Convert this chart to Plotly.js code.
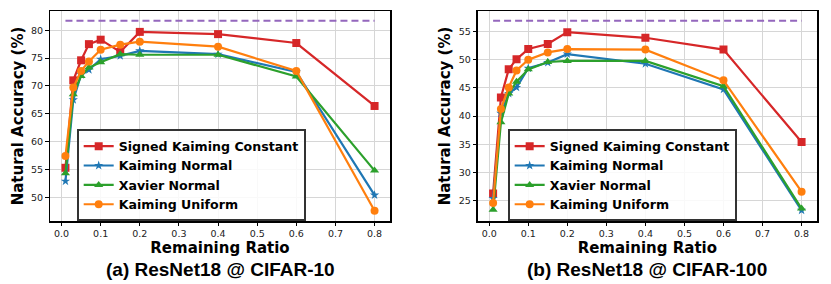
<!DOCTYPE html>
<html>
<head>
<meta charset="utf-8">
<script src="https://cdn.plot.ly/plotly-3.0.1.min.js"></script>
<style>html,body{margin:0;padding:0;background:#fff;}#chart{width:831px;height:284px;}</style>
</head>
<body>
<div id="chart"></div>
<script>
// ---- data ----
const ratios = [0.01, 0.03, 0.05, 0.07, 0.1, 0.15, 0.2, 0.4, 0.6, 0.8];
const seriesNames = ["Signed Kaiming Constant", "Kaiming Normal", "Xavier Normal", "Kaiming Uniform"];

// (a) ResNet18 @ CIFAR-10
const c10_signedKaimingConstant = [55.3, 71.0, 74.6, 77.5, 78.3, 76.1, 79.7, 79.3, 77.7, 66.4];
const c10_kaimingNormal         = [52.9, 67.5, 72.0, 72.9, 74.8, 75.4, 76.3, 75.7, 72.5, 50.4];
const c10_xavierNormal          = [54.3, 68.5, 71.8, 73.3, 74.25, 75.7, 75.6, 75.6, 71.7, 54.8];
const c10_kaimingUniform        = [57.4, 69.7, 72.7, 74.4, 76.5, 77.4, 77.95, 77.05, 72.7, 47.6];
const c10_dense = 81.7;

// (b) ResNet18 @ CIFAR-100
const c100_signedKaimingConstant = [26.3, 43.3, 48.3, 50.1, 51.9, 52.8, 54.9, 53.9, 51.8, 35.4];
const c100_kaimingNormal         = [25.4, 40.5, 44.0, 45.1, 48.5, 49.5, 51.0, 49.3, 44.75, 23.3];
const c100_xavierNormal          = [23.4, 38.9, 44.0, 46.1, 48.3, 49.6, 49.8, 49.8, 45.3, 23.6];
const c100_kaimingUniform        = [24.6, 41.25, 45.1, 48.1, 50.0, 51.3, 51.9, 51.8, 46.35, 26.6];
const c100_dense = 56.9;

const xTicks = [0.0, 0.1, 0.2, 0.3, 0.4, 0.5, 0.6, 0.7, 0.8];
const yTicksA = [50, 55, 60, 65, 70, 75, 80];
const yTicksB = [25, 30, 35, 40, 45, 50, 55];
const subtitles = ["(a) ResNet18 @ CIFAR-10", "(b) ResNet18 @ CIFAR-100"];

// ---- styles ----
const colors = ["#d62728", "#1f77b4", "#2ca02c", "#ff7f0e"];
const symbols = ["square", "star", "triangle-up", "circle"];
const msizes = [8, 7, 8, 8];

function makeTraces(vals, dense, xa, ya, leg) {
  const tr = [];
  tr.push({
    x: [ratios[0], ratios[ratios.length - 1]], y: [dense, dense],
    xaxis: xa, yaxis: ya, mode: "lines", showlegend: false, hoverinfo: "skip",
    line: {color: "#9467bd", width: 2, dash: "7px,4px"}
  });
  vals.forEach((v, i) => {
    tr.push({
      x: ratios, y: v, name: seriesNames[i], xaxis: xa, yaxis: ya, legend: leg,
      mode: "lines+markers",
      line: {color: colors[i], width: 2.2},
      marker: {symbol: symbols[i], size: msizes[i], color: colors[i]}
    });
  });
  return tr;
}

const data = [].concat(
  makeTraces([c10_signedKaimingConstant, c10_kaimingNormal, c10_xavierNormal, c10_kaimingUniform], c10_dense, "x", "y", "legend"),
  makeTraces([c100_signedKaimingConstant, c100_kaimingNormal, c100_xavierNormal, c100_kaimingUniform], c100_dense, "x2", "y2", "legend2")
);

const tickFont = {family: "DejaVu Sans", size: 9.5, color: "#222"};
const titleFont = {family: "DejaVu Sans", size: 15, color: "#000", weight: "bold"};

function xAxis(domain, anchor) {
  return {
    domain: domain, anchor: anchor, range: [-0.0295, 0.8395],
    tickvals: xTicks, tickformat: ".1f", tickfont: tickFont,
    ticks: "outside", ticklen: 3.5, tickcolor: "#000", tickwidth: 1,
    showgrid: true, gridcolor: "#d6d6d6", gridwidth: 1,
    showline: true, linecolor: "#000", linewidth: 1.5, mirror: true,
    zeroline: false,
    title: {text: "Remaining Ratio", font: titleFont, standoff: 2}
  };
}
function yAxis(range, ticks, anchor) {
  return {
    domain: [0, 1], anchor: anchor, range: range,
    tickvals: ticks, tickfont: tickFont,
    ticks: "outside", ticklen: 3.5, tickcolor: "#000", tickwidth: 1,
    showgrid: true, gridcolor: "#d6d6d6", gridwidth: 1,
    showline: true, linecolor: "#000", linewidth: 1.5, mirror: true,
    zeroline: false,
    title: {text: "Natural Accuracy (%)", font: titleFont, standoff: 4}
  };
}

const legendStyle = (x) => ({
  x: x, y: 0.436, xanchor: "left", yanchor: "top",
  bgcolor: "rgba(255,255,255,0.85)", bordercolor: "#333", borderwidth: 2,
  font: {family: "DejaVu Sans", size: 12.6, color: "#000", weight: "bold"},
  tracegroupgap: 0, itemwidth: 30
});

const layout = {
  width: 831, height: 284,
  margin: {l: 50, r: 14, t: 11, b: 63},
  paper_bgcolor: "#fff", plot_bgcolor: "#fff",
  showlegend: true,
  xaxis: xAxis([0, 0.4433], "y"),
  yaxis: yAxis([45.75, 83.45], yTicksA, "x"),
  xaxis2: xAxis([0.5576, 1], "y2"),
  yaxis2: yAxis([21.4, 58.65], yTicksB, "x2"),
  legend: legendStyle(0.0348),
  legend2: legendStyle(0.5967),
  annotations: [
    {text: subtitles[0], xref: "paper", yref: "paper", x: 0.2217, y: -0.233, xanchor: "center", yanchor: "middle",
     showarrow: false, font: {family: "Liberation Sans", size: 19, color: "#000", weight: "bold"}},
    {text: subtitles[1], xref: "paper", yref: "paper", x: 0.7788, y: -0.233, xanchor: "center", yanchor: "middle",
     showarrow: false, font: {family: "Liberation Sans", size: 19, color: "#000", weight: "bold"}}
  ]
};

Plotly.newPlot("chart", data, layout, {displayModeBar: false, staticPlot: true});
</script>
</body>
</html>
